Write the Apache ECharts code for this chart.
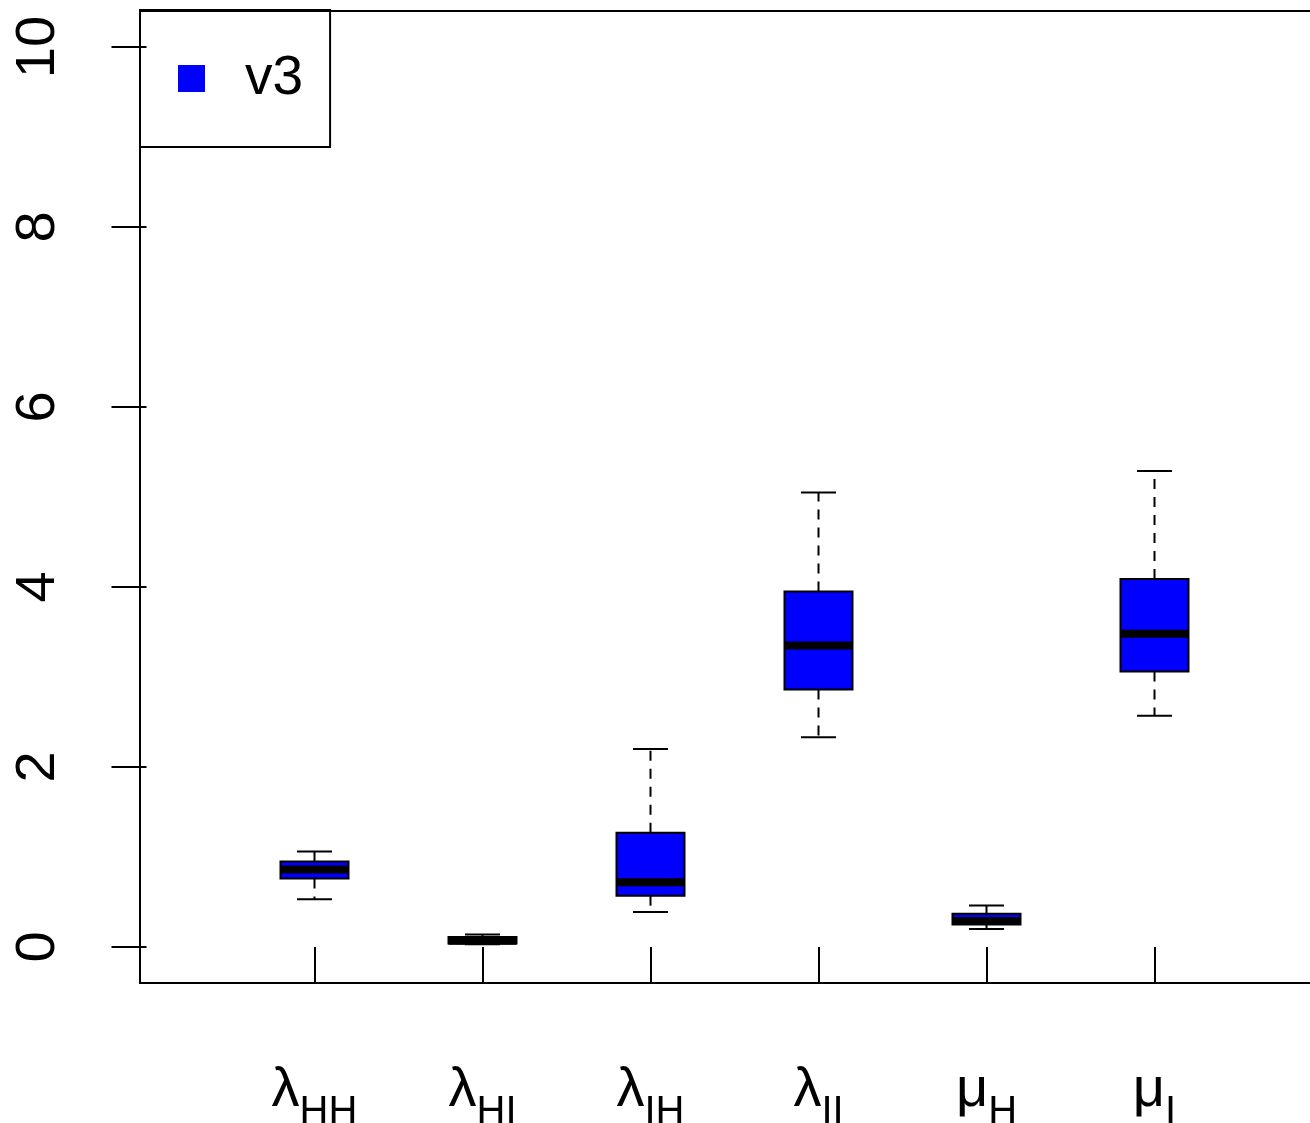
<!DOCTYPE html>
<html>
<head>
<meta charset="utf-8">
<script src="https://cdn.jsdelivr.net/npm/echarts@6/dist/echarts.min.js"></script>
<style>
html,body{margin:0;padding:0;background:#fff;}
#chart{width:1310px;height:1123px;}
</style>
</head>
<body>
<div id="chart"></div>
<script>
// ---- data ----
const greek = ['λ', 'λ', 'λ', 'λ', 'μ', 'μ'];
const subs = ['HH', 'HI', 'IH', 'II', 'H', 'I'];
const positions = [1, 2, 3, 4, 5, 6];
const whiskerLow  = [0.53, 0.03, 0.39, 2.33, 0.20, 2.57];
const q1          = [0.76, 0.04, 0.57, 2.86, 0.25, 3.06];
const median      = [0.86, 0.07, 0.72, 3.35, 0.29, 3.48];
const q3          = [0.95, 0.11, 1.27, 3.95, 0.37, 4.09];
const whiskerHigh = [1.06, 0.14, 2.20, 5.05, 0.46, 5.29];
const yTicks = [0, 2, 4, 6, 8, 10];
const seriesName = 'v3';

const rows = positions.map((p, i) => [p, whiskerLow[i], q1[i], median[i], q3[i], whiskerHigh[i]]);

const FONT = "'Liberation Sans', Arial, Helvetica, sans-serif";
const BLUE = '#0000FF';
const xMin = 1 - 174.5 / 168;
const xMax = 7;

function renderItem(params, api) {
  const x = api.value(0);
  const lo = api.value(1), a = api.value(2), m = api.value(3), b = api.value(4), hi = api.value(5);
  const hw = 0.2024, cw = 0.1042;
  const cx = api.coord([x, 0])[0];
  const xl = api.coord([x - hw, 0])[0];
  const xr = api.coord([x + hw, 0])[0];
  const cl = api.coord([x - cw, 0])[0];
  const cr = api.coord([x + cw, 0])[0];
  const yLo = api.coord([x, lo])[1];
  const yA = api.coord([x, a])[1];
  const yM = api.coord([x, m])[1];
  const yB = api.coord([x, b])[1];
  const yHi = api.coord([x, hi])[1];
  const dash = { stroke: '#000', lineWidth: 2, lineDash: [10, 8] };
  const solid = { stroke: '#000', lineWidth: 2 };
  return {
    type: 'group',
    children: [
      { type: 'line', shape: { x1: cx, y1: yB, x2: cx, y2: yHi }, style: dash },
      { type: 'line', shape: { x1: cx, y1: yA, x2: cx, y2: yLo }, style: dash },
      { type: 'line', shape: { x1: cl, y1: yHi, x2: cr, y2: yHi }, style: solid },
      { type: 'line', shape: { x1: cl, y1: yLo, x2: cr, y2: yLo }, style: solid },
      { type: 'rect', shape: { x: xl, y: yB, width: xr - xl, height: yA - yB },
        style: { fill: BLUE, stroke: '#000', lineWidth: 2 } },
      { type: 'line', shape: { x1: xl, y1: yM, x2: xr, y2: yM },
        style: { stroke: '#000', lineWidth: 8, lineCap: 'butt' } }
    ]
  };
}

const chart = echarts.init(document.getElementById('chart'), null, { renderer: 'canvas' });
chart.setOption({
  animation: false,
  backgroundColor: '#fff',
  textStyle: { fontFamily: FONT },
  grid: {
    left: 140, top: 11, width: (xMax - xMin) * 168, height: 972,
    outerBoundsMode: 'none', containLabel: false,
    show: true, borderColor: '#000', borderWidth: 2, backgroundColor: 'transparent'
  },
  legend: {
    left: 140, top: 10,
    padding: [41, 27, 41, 38],
    borderColor: '#000', borderWidth: 2,
    icon: 'rect', itemWidth: 27, itemHeight: 27,
    data: [{ name: seriesName, itemStyle: { color: BLUE } }],
    textStyle: { fontSize: 55, color: '#000', fontFamily: FONT, padding: [0, 0, 0, 35] }
  },
  xAxis: {
    type: 'value', min: xMin, max: xMax,
    splitLine: { show: false },
    axisLine: { show: false },
    axisTick: { show: true, inside: false, length: 35, lineStyle: { color: '#000', width: 2 },
      customValues: positions },
    axisLabel: {
      customValues: positions,
      margin: 80,
      formatter: function (v) {
        const i = positions.indexOf(Math.round(v));
        if (i < 0) return '';
        return '{g|' + greek[i] + '}{s|' + subs[i] + '}';
      },
      rich: {
        g: { fontSize: 56, lineHeight: 56, verticalAlign: 'top', color: '#000', fontFamily: FONT },
        s: { fontSize: 40, lineHeight: 40, verticalAlign: 'top', padding: [30, 0, 0, 0], color: '#000', fontFamily: FONT }
      }
    }
  },
  yAxis: {
    type: 'value', min: -0.4, max: 10.4,
    splitLine: { show: false },
    axisLine: { show: false },
    axisTick: { show: true, inside: false, length: 35, lineStyle: { color: '#000', width: 2 },
      customValues: yTicks },
    axisLabel: {
      customValues: yTicks,
      rotate: 90, margin: 101, align: 'center', verticalAlign: 'middle',
      fontSize: 56, color: '#000', fontFamily: FONT,
      formatter: function (v) { return String(Math.round(v)); }
    }
  },
  series: [{
    name: seriesName,
    type: 'custom',
    renderItem: renderItem,
    itemStyle: { color: BLUE },
    encode: { x: 0, y: [1, 2, 3, 4, 5] },
    data: rows,
    clip: false
  }]
});
</script>
</body>
</html>
